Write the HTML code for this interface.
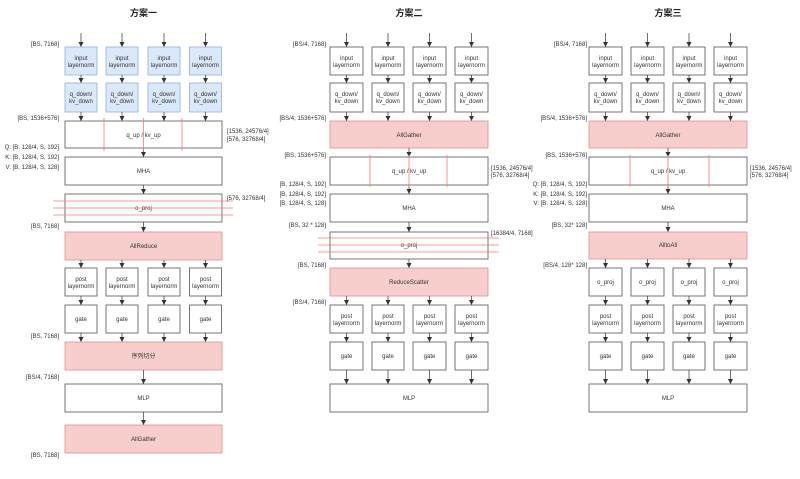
<!DOCTYPE html>
<html><head><meta charset="utf-8"><style>
html,body{margin:0;padding:0;background:#fff;width:800px;height:479px;overflow:hidden}
svg{display:block}
text{font-family:"Liberation Sans","Noto Sans CJK SC",sans-serif;font-size:6px;fill:#333}
.t{font-size:9px;font-weight:bold;fill:#222}
.b{fill:#fff;stroke:#555;stroke-width:0.8}
.bl{fill:#dae8fc;stroke:#8fb0d8;stroke-width:0.8}
.rd{fill:#f8cecc;stroke:#e0908c;stroke-width:0.8}
.a{stroke:#333;stroke-width:0.7;marker-end:url(#m)}
.r{stroke:#f77;stroke-width:0.8}
</style></head><body>
<svg width="800" height="479" viewBox="0 0 800 479" xmlns="http://www.w3.org/2000/svg">
<defs><marker id="m" markerWidth="6" markerHeight="6" refX="5" refY="3" orient="auto" markerUnits="userSpaceOnUse"><path d="M0,0.5 L5,3 L0,5.5 z" fill="#333"/></marker></defs>

<!-- titles -->
<text class="t" x="143.5" y="16" text-anchor="middle">方案一</text>
<text class="t" x="409" y="16" text-anchor="middle">方案二</text>
<text class="t" x="668" y="16" text-anchor="middle">方案三</text>

<!-- ===== COLUMN 1 ===== -->
<g text-anchor="middle">
<line class="a" x1="81" y1="33" x2="81" y2="47"/><line class="a" x1="122" y1="33" x2="122" y2="47"/><line class="a" x1="164" y1="33" x2="164" y2="47"/><line class="a" x1="205.5" y1="33" x2="205.5" y2="47"/>
<rect class="bl" x="65" y="47" width="32" height="28"/><rect class="bl" x="106" y="47" width="32" height="28"/><rect class="bl" x="148" y="47" width="32" height="28"/><rect class="bl" x="189.5" y="47" width="32" height="28"/>
<text x="81" y="60">input</text><text x="81" y="67">layernorm</text>
<text x="122" y="60">input</text><text x="122" y="67">layernorm</text>
<text x="164" y="60">input</text><text x="164" y="67">layernorm</text>
<text x="205.5" y="60">input</text><text x="205.5" y="67">layernorm</text>
<line class="a" x1="81" y1="75" x2="81" y2="83"/><line class="a" x1="122" y1="75" x2="122" y2="83"/><line class="a" x1="164" y1="75" x2="164" y2="83"/><line class="a" x1="205.5" y1="75" x2="205.5" y2="83"/>
<rect class="bl" x="65" y="83" width="32" height="29"/><rect class="bl" x="106" y="83" width="32" height="29"/><rect class="bl" x="148" y="83" width="32" height="29"/><rect class="bl" x="189.5" y="83" width="32" height="29"/>
<text x="81" y="96">q_down/</text><text x="81" y="103">kv_down</text>
<text x="122" y="96">q_down/</text><text x="122" y="103">kv_down</text>
<text x="164" y="96">q_down/</text><text x="164" y="103">kv_down</text>
<text x="205.5" y="96">q_down/</text><text x="205.5" y="103">kv_down</text>
<line class="a" x1="81" y1="112" x2="81" y2="121"/><line class="a" x1="122" y1="112" x2="122" y2="121"/><line class="a" x1="164" y1="112" x2="164" y2="121"/><line class="a" x1="205.5" y1="112" x2="205.5" y2="121"/>
<rect class="b" x="65" y="121" width="157" height="27"/><text x="143.5" y="137">q_up / kv_up</text>
<line class="a" x1="143.5" y1="148" x2="143.5" y2="157"/>
<rect class="b" x="65" y="157" width="157" height="28"/><text x="143.5" y="173">MHA</text>
<line class="a" x1="143.5" y1="185" x2="143.5" y2="194"/>
<rect class="b" x="65" y="194" width="157" height="28"/><text x="143.5" y="210">o_proj</text>
<line class="a" x1="143.5" y1="222" x2="143.5" y2="232"/>
<rect class="rd" x="65" y="232" width="157" height="28"/><text x="143.5" y="248">AllReduce</text>
<line class="a" x1="81" y1="260" x2="81" y2="268"/><line class="a" x1="122" y1="260" x2="122" y2="268"/><line class="a" x1="164" y1="260" x2="164" y2="268"/><line class="a" x1="205.5" y1="260" x2="205.5" y2="268"/>
<rect class="b" x="65" y="268" width="32" height="28"/><rect class="b" x="106" y="268" width="32" height="28"/><rect class="b" x="148" y="268" width="32" height="28"/><rect class="b" x="189.5" y="268" width="32" height="28"/>
<text x="81" y="281">post</text><text x="81" y="288">layernorm</text>
<text x="122" y="281">post</text><text x="122" y="288">layernorm</text>
<text x="164" y="281">post</text><text x="164" y="288">layernorm</text>
<text x="205.5" y="281">post</text><text x="205.5" y="288">layernorm</text>
<line class="a" x1="81" y1="296" x2="81" y2="305"/><line class="a" x1="122" y1="296" x2="122" y2="305"/><line class="a" x1="164" y1="296" x2="164" y2="305"/><line class="a" x1="205.5" y1="296" x2="205.5" y2="305"/>
<rect class="b" x="65" y="305" width="32" height="28"/><rect class="b" x="106" y="305" width="32" height="28"/><rect class="b" x="148" y="305" width="32" height="28"/><rect class="b" x="189.5" y="305" width="32" height="28"/>
<text x="81" y="321">gate</text><text x="122" y="321">gate</text><text x="164" y="321">gate</text><text x="205.5" y="321">gate</text>
<line class="a" x1="81" y1="333" x2="81" y2="342"/><line class="a" x1="122" y1="333" x2="122" y2="342"/><line class="a" x1="164" y1="333" x2="164" y2="342"/><line class="a" x1="205.5" y1="333" x2="205.5" y2="342"/>
<rect class="rd" x="65" y="342" width="157" height="28"/><text x="143.5" y="358">序列切分</text>
<line class="a" x1="143.5" y1="370" x2="143.5" y2="384"/>
<rect class="b" x="65" y="384" width="157" height="28"/><text x="143.5" y="400">MLP</text>
<line class="a" x1="143.5" y1="412" x2="143.5" y2="425"/>
<rect class="rd" x="65" y="425" width="157" height="28"/><text x="143.5" y="441">AllGather</text>
</g>
<line class="r" x1="104" y1="118" x2="104" y2="151"/><line class="r" x1="143.5" y1="118" x2="143.5" y2="151"/><line class="r" x1="182" y1="118" x2="182" y2="151"/>
<line class="r" x1="53" y1="201" x2="233" y2="201"/><line class="r" x1="53" y1="208" x2="233" y2="208"/><line class="r" x1="53" y1="215" x2="233" y2="215"/>
<g text-anchor="end">
<text x="59" y="46">[BS, 7168]</text>
<text x="59" y="120">[BS, 1536+576]</text>
<text x="59" y="149">Q: [B, 128/4, S, 192]</text>
<text x="59" y="159">K: [B, 128/4, S, 192]</text>
<text x="59" y="169">V: [B, 128/4, S, 128]</text>
<text x="59" y="228">[BS, 7168]</text>
<text x="59" y="338">[BS, 7168]</text>
<text x="59" y="379">[BS/4, 7168]</text>
<text x="59" y="457">[BS, 7168]</text>
</g>
<text x="227" y="133">[1536, 24576/4]</text>
<text x="227" y="141">[576, 32768/4]</text>
<text x="227" y="200">[576, 32768/4]</text>

<!-- ===== COLUMN 2 ===== -->
<g text-anchor="middle">
<line class="a" x1="346.5" y1="33" x2="346.5" y2="47"/><line class="a" x1="388" y1="33" x2="388" y2="47"/><line class="a" x1="429.5" y1="33" x2="429.5" y2="47"/><line class="a" x1="471.5" y1="33" x2="471.5" y2="47"/>
<rect class="b" x="330" y="47" width="33" height="28"/><rect class="b" x="372" y="47" width="32" height="28"/><rect class="b" x="413" y="47" width="33" height="28"/><rect class="b" x="455" y="47" width="33" height="28"/>
<text x="346.5" y="60">input</text><text x="346.5" y="67">layernorm</text>
<text x="388" y="60">input</text><text x="388" y="67">layernorm</text>
<text x="429.5" y="60">input</text><text x="429.5" y="67">layernorm</text>
<text x="471.5" y="60">input</text><text x="471.5" y="67">layernorm</text>
<line class="a" x1="346.5" y1="75" x2="346.5" y2="83"/><line class="a" x1="388" y1="75" x2="388" y2="83"/><line class="a" x1="429.5" y1="75" x2="429.5" y2="83"/><line class="a" x1="471.5" y1="75" x2="471.5" y2="83"/>
<rect class="b" x="330" y="83" width="33" height="29"/><rect class="b" x="372" y="83" width="32" height="29"/><rect class="b" x="413" y="83" width="33" height="29"/><rect class="b" x="455" y="83" width="33" height="29"/>
<text x="346.5" y="96">q_down/</text><text x="346.5" y="103">kv_down</text>
<text x="388" y="96">q_down/</text><text x="388" y="103">kv_down</text>
<text x="429.5" y="96">q_down/</text><text x="429.5" y="103">kv_down</text>
<text x="471.5" y="96">q_down/</text><text x="471.5" y="103">kv_down</text>
<line class="a" x1="346.5" y1="112" x2="346.5" y2="121"/><line class="a" x1="388" y1="112" x2="388" y2="121"/><line class="a" x1="429.5" y1="112" x2="429.5" y2="121"/><line class="a" x1="471.5" y1="112" x2="471.5" y2="121"/>
<rect class="rd" x="330" y="121" width="158" height="27"/><text x="409" y="137">AllGather</text>
<line class="a" x1="409" y1="148" x2="409" y2="157"/>
<rect class="b" x="330" y="157" width="158" height="28"/><text x="409" y="173">q_up / kv_up</text>
<line class="a" x1="409" y1="185" x2="409" y2="194"/>
<rect class="b" x="330" y="194" width="158" height="28"/><text x="409" y="210">MHA</text>
<line class="a" x1="409" y1="222" x2="409" y2="232"/>
<rect class="b" x="330" y="232" width="158" height="27"/><text x="409" y="247">o_proj</text>
<line class="a" x1="409" y1="259" x2="409" y2="268"/>
<rect class="rd" x="330" y="268" width="158" height="28"/><text x="409" y="284">ReduceScatter</text>
<line class="a" x1="346.5" y1="296" x2="346.5" y2="305"/><line class="a" x1="388" y1="296" x2="388" y2="305"/><line class="a" x1="429.5" y1="296" x2="429.5" y2="305"/><line class="a" x1="471.5" y1="296" x2="471.5" y2="305"/>
<rect class="b" x="330" y="305" width="33" height="28"/><rect class="b" x="372" y="305" width="32" height="28"/><rect class="b" x="413" y="305" width="33" height="28"/><rect class="b" x="455" y="305" width="33" height="28"/>
<text x="346.5" y="318">post</text><text x="346.5" y="325">layernorm</text>
<text x="388" y="318">post</text><text x="388" y="325">layernorm</text>
<text x="429.5" y="318">post</text><text x="429.5" y="325">layernorm</text>
<text x="471.5" y="318">post</text><text x="471.5" y="325">layernorm</text>
<line class="a" x1="346.5" y1="333" x2="346.5" y2="342"/><line class="a" x1="388" y1="333" x2="388" y2="342"/><line class="a" x1="429.5" y1="333" x2="429.5" y2="342"/><line class="a" x1="471.5" y1="333" x2="471.5" y2="342"/>
<rect class="b" x="330" y="342" width="33" height="28"/><rect class="b" x="372" y="342" width="32" height="28"/><rect class="b" x="413" y="342" width="33" height="28"/><rect class="b" x="455" y="342" width="33" height="28"/>
<text x="346.5" y="358">gate</text><text x="388" y="358">gate</text><text x="429.5" y="358">gate</text><text x="471.5" y="358">gate</text>
<line class="a" x1="346.5" y1="370" x2="346.5" y2="384"/><line class="a" x1="388" y1="370" x2="388" y2="384"/><line class="a" x1="429.5" y1="370" x2="429.5" y2="384"/><line class="a" x1="471.5" y1="370" x2="471.5" y2="384"/>
<rect class="b" x="330" y="384" width="158" height="28"/><text x="409" y="400">MLP</text>
</g>
<line class="r" x1="370" y1="155" x2="370" y2="187"/><line class="r" x1="409" y1="155" x2="409" y2="187"/><line class="r" x1="447" y1="155" x2="447" y2="187"/>
<line class="r" x1="318" y1="238" x2="499" y2="238"/><line class="r" x1="318" y1="245" x2="499" y2="245"/><line class="r" x1="318" y1="252" x2="499" y2="252"/>
<g text-anchor="end">
<text x="326" y="46">[BS/4, 7168]</text>
<text x="326" y="120">[BS/4, 1536+576]</text>
<text x="326" y="157">[BS, 1536+576]</text>
<text x="326" y="186">[B, 128/4, S, 192]</text>
<text x="326" y="196">[B, 128/4, S, 192]</text>
<text x="326" y="205">[B, 128/4, S, 128]</text>
<text x="326" y="227">[BS, 32 * 128]</text>
<text x="326" y="267">[BS, 7168]</text>
<text x="326" y="304">[BS/4, 7168]</text>
</g>
<text x="491" y="170">[1536, 24576/4]</text>
<text x="491" y="177">[576, 32768/4]</text>
<text x="491" y="235">[16384/4, 7168]</text>

<!-- ===== COLUMN 3 ===== -->
<g text-anchor="middle">
<line class="a" x1="605.5" y1="33" x2="605.5" y2="47"/><line class="a" x1="647.5" y1="33" x2="647.5" y2="47"/><line class="a" x1="689" y1="33" x2="689" y2="47"/><line class="a" x1="730.5" y1="33" x2="730.5" y2="47"/>
<rect class="b" x="589" y="47" width="33" height="28"/><rect class="b" x="631" y="47" width="33" height="28"/><rect class="b" x="673" y="47" width="32" height="28"/><rect class="b" x="714" y="47" width="33" height="28"/>
<text x="605.5" y="60">input</text><text x="605.5" y="67">layernorm</text>
<text x="647.5" y="60">input</text><text x="647.5" y="67">layernorm</text>
<text x="689" y="60">input</text><text x="689" y="67">layernorm</text>
<text x="730.5" y="60">input</text><text x="730.5" y="67">layernorm</text>
<line class="a" x1="605.5" y1="75" x2="605.5" y2="83"/><line class="a" x1="647.5" y1="75" x2="647.5" y2="83"/><line class="a" x1="689" y1="75" x2="689" y2="83"/><line class="a" x1="730.5" y1="75" x2="730.5" y2="83"/>
<rect class="b" x="589" y="83" width="33" height="29"/><rect class="b" x="631" y="83" width="33" height="29"/><rect class="b" x="673" y="83" width="32" height="29"/><rect class="b" x="714" y="83" width="33" height="29"/>
<text x="605.5" y="96">q_down/</text><text x="605.5" y="103">kv_down</text>
<text x="647.5" y="96">q_down/</text><text x="647.5" y="103">kv_down</text>
<text x="689" y="96">q_down/</text><text x="689" y="103">kv_down</text>
<text x="730.5" y="96">q_down/</text><text x="730.5" y="103">kv_down</text>
<line class="a" x1="605.5" y1="112" x2="605.5" y2="121"/><line class="a" x1="647.5" y1="112" x2="647.5" y2="121"/><line class="a" x1="689" y1="112" x2="689" y2="121"/><line class="a" x1="730.5" y1="112" x2="730.5" y2="121"/>
<rect class="rd" x="589" y="121" width="158" height="27"/><text x="668" y="137">AllGather</text>
<line class="a" x1="668" y1="148" x2="668" y2="157"/>
<rect class="b" x="589" y="157" width="158" height="28"/><text x="668" y="173">q_up / kv_up</text>
<line class="a" x1="668" y1="185" x2="668" y2="194"/>
<rect class="b" x="589" y="194" width="158" height="28"/><text x="668" y="210">MHA</text>
<line class="a" x1="668" y1="222" x2="668" y2="232"/>
<rect class="rd" x="589" y="232" width="158" height="27"/><text x="668" y="247">AlltoAll</text>
<line class="a" x1="605.5" y1="259" x2="605.5" y2="268"/><line class="a" x1="647.5" y1="259" x2="647.5" y2="268"/><line class="a" x1="689" y1="259" x2="689" y2="268"/><line class="a" x1="730.5" y1="259" x2="730.5" y2="268"/>
<rect class="b" x="589" y="268" width="33" height="28"/><rect class="b" x="631" y="268" width="33" height="28"/><rect class="b" x="673" y="268" width="32" height="28"/><rect class="b" x="714" y="268" width="33" height="28"/>
<text x="605.5" y="284">o_proj</text><text x="647.5" y="284">o_proj</text><text x="689" y="284">o_proj</text><text x="730.5" y="284">o_proj</text>
<line class="a" x1="605.5" y1="296" x2="605.5" y2="305"/><line class="a" x1="647.5" y1="296" x2="647.5" y2="305"/><line class="a" x1="689" y1="296" x2="689" y2="305"/><line class="a" x1="730.5" y1="296" x2="730.5" y2="305"/>
<rect class="b" x="589" y="305" width="33" height="28"/><rect class="b" x="631" y="305" width="33" height="28"/><rect class="b" x="673" y="305" width="32" height="28"/><rect class="b" x="714" y="305" width="33" height="28"/>
<text x="605.5" y="318">post</text><text x="605.5" y="325">layernorm</text>
<text x="647.5" y="318">post</text><text x="647.5" y="325">layernorm</text>
<text x="689" y="318">post</text><text x="689" y="325">layernorm</text>
<text x="730.5" y="318">post</text><text x="730.5" y="325">layernorm</text>
<line class="a" x1="605.5" y1="333" x2="605.5" y2="342"/><line class="a" x1="647.5" y1="333" x2="647.5" y2="342"/><line class="a" x1="689" y1="333" x2="689" y2="342"/><line class="a" x1="730.5" y1="333" x2="730.5" y2="342"/>
<rect class="b" x="589" y="342" width="33" height="28"/><rect class="b" x="631" y="342" width="33" height="28"/><rect class="b" x="673" y="342" width="32" height="28"/><rect class="b" x="714" y="342" width="33" height="28"/>
<text x="605.5" y="358">gate</text><text x="647.5" y="358">gate</text><text x="689" y="358">gate</text><text x="730.5" y="358">gate</text>
<line class="a" x1="605.5" y1="370" x2="605.5" y2="384"/><line class="a" x1="647.5" y1="370" x2="647.5" y2="384"/><line class="a" x1="689" y1="370" x2="689" y2="384"/><line class="a" x1="730.5" y1="370" x2="730.5" y2="384"/>
<rect class="b" x="589" y="384" width="158" height="28"/><text x="668" y="400">MLP</text>
</g>
<line class="r" x1="630" y1="155" x2="630" y2="187"/><line class="r" x1="668" y1="155" x2="668" y2="187"/><line class="r" x1="709" y1="155" x2="709" y2="187"/>
<g text-anchor="end">
<text x="587" y="46">[BS/4, 7168]</text>
<text x="587" y="120">[BS/4, 1536+576]</text>
<text x="587" y="157">[BS, 1536+576]</text>
<text x="587" y="186">Q: [B, 128/4, S, 192]</text>
<text x="587" y="196">K: [B, 128/4, S, 192]</text>
<text x="587" y="205">V: [B, 128/4, S, 128]</text>
<text x="587" y="227">[BS, 32* 128]</text>
<text x="587" y="267">[BS/4, 128* 128]</text>
</g>
<text x="750" y="170">[1536, 24576/4]</text>
<text x="750" y="177">[576, 32768/4]</text>
</svg>
</body></html>
